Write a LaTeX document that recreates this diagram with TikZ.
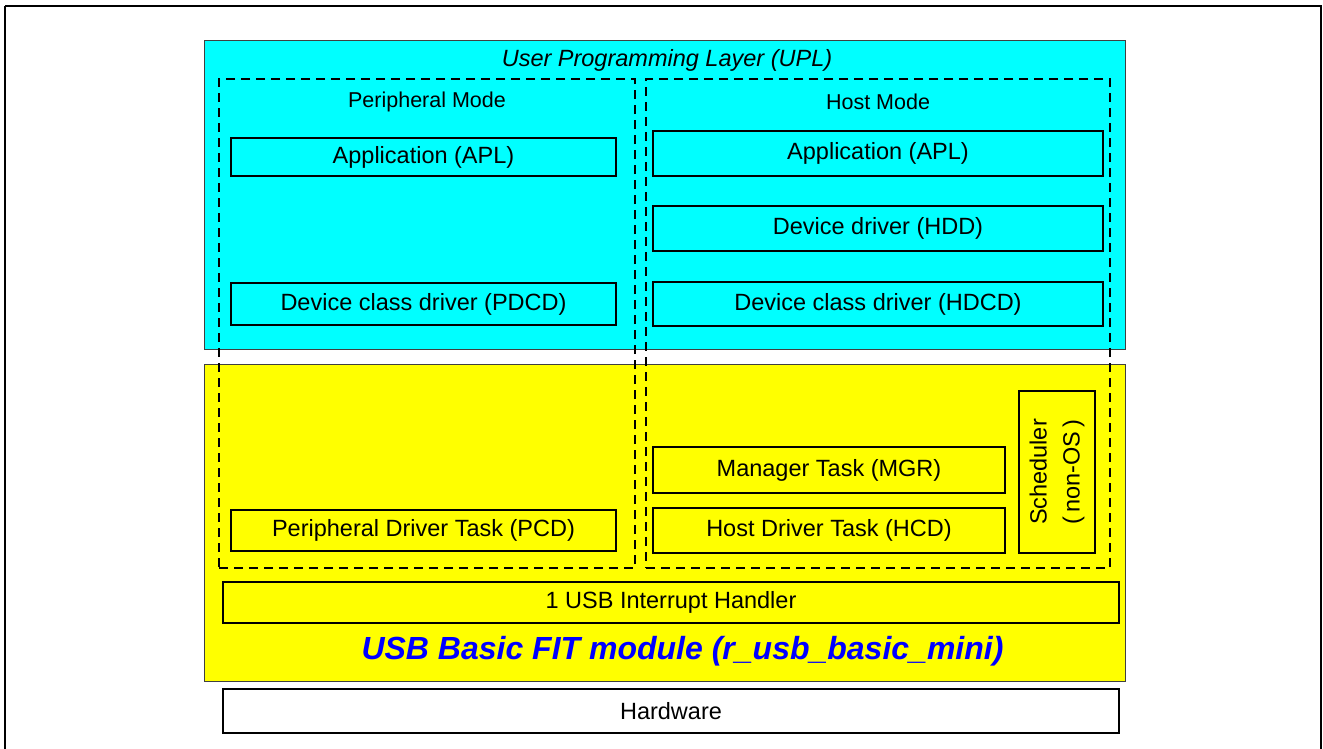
\documentclass[tikz,border=0pt]{standalone}
\usepackage{fontspec}
\setmainfont{Liberation Sans}
\newcommand\dfont{\fontsize{23.5}{33}\selectfont}
\newcommand\mfont{\fontsize{21.5}{26}\selectfont}
\definecolor{upcyan}{HTML}{00FFFF}
\definecolor{upyellow}{HTML}{FFFF00}
\definecolor{upblue}{HTML}{0000FF}
\begin{document}
\begin{tikzpicture}[x=1pt,y=-1pt,
  layer/.style={draw=black!75, line width=1pt, inner sep=0pt},
  modebox/.style={draw=black, line width=1.8pt, dash pattern=on 9pt off 6pt, inner sep=0pt},
  blk/.style={draw=black, line width=1.8pt, inner sep=0pt, font=\dfont},
  lbl/.style={inner sep=0pt, font=\dfont}]
\useasboundingbox (0,0) rectangle (1323,748);
% outer frame
\draw[line width=2pt] (5,6) -- (1321,6) -- (1321,770) (5,6) -- (5,770);
% layers
\node[layer, fill=upcyan, minimum width=921pt, minimum height=309pt] (upl) at (664.5,194.5) {};
\node[layer, fill=upyellow, minimum width=921pt, minimum height=317pt] (basic) at (664.5,522.5) {};
\node[lbl, font=\dfont\itshape] (upltitle) at (667,60) {User Programming Layer (UPL)};
% mode boxes
\node[modebox, minimum width=416pt, minimum height=489pt] (pmode) at (427,323.5) {};
\node[modebox, minimum width=464pt, minimum height=489pt] (hmode) at (878,323.5) {};
\node[lbl, font=\mfont] (pmodet) at (427,102) {Peripheral Mode};
\node[lbl, font=\mfont] (hmodet) at (878,102) {Host Mode};
% peripheral boxes
\node[blk, minimum width=385pt, minimum height=38pt] (papl) at (423.5,157) {Application (APL)};
\node[blk, minimum width=385pt, minimum height=42pt] (pdcd) at (423.5,304) {Device class driver (PDCD)};
\node[blk, minimum width=385pt, minimum height=41pt] (pcd) at (423.5,530.5) {Peripheral Driver Task (PCD)};
% host boxes
\node[blk, minimum width=450pt, minimum height=45pt] (hapl) at (878,153.5) {Application (APL)};
\node[blk, minimum width=450pt, minimum height=45pt] (hdd) at (878,228.5) {Device driver (HDD)};
\node[blk, minimum width=450pt, minimum height=44pt] (hdcd) at (878,304) {Device class driver (HDCD)};
\node[blk, minimum width=352pt, minimum height=46pt] (mgr) at (829,470) {Manager Task (MGR)};
\node[blk, minimum width=352pt, minimum height=45pt] (hcd) at (829,530.5) {Host Driver Task (HCD)};
\node[blk, minimum width=76pt, minimum height=162pt] (sched) at (1057,472) {};
\node[lbl, rotate=90, align=center] (schedt) at (sched.center) {Scheduler\\(\,non-OS\,)};
% bottom
\node[blk, minimum width=896pt, minimum height=41pt] (isr) at (671,602.5) {1 USB Interrupt Handler};
\node[inner sep=0pt, anchor=base, text=upblue, font=\fontsize{32}{38}\selectfont\bfseries\itshape] (fit) at (682.5,659) {USB Basic FIT module (r\_usb\_basic\_mini)};
\node[blk, fill=white, minimum width=896pt, minimum height=44pt] (hw) at (671,711) {Hardware};
\end{tikzpicture}
\end{document}
